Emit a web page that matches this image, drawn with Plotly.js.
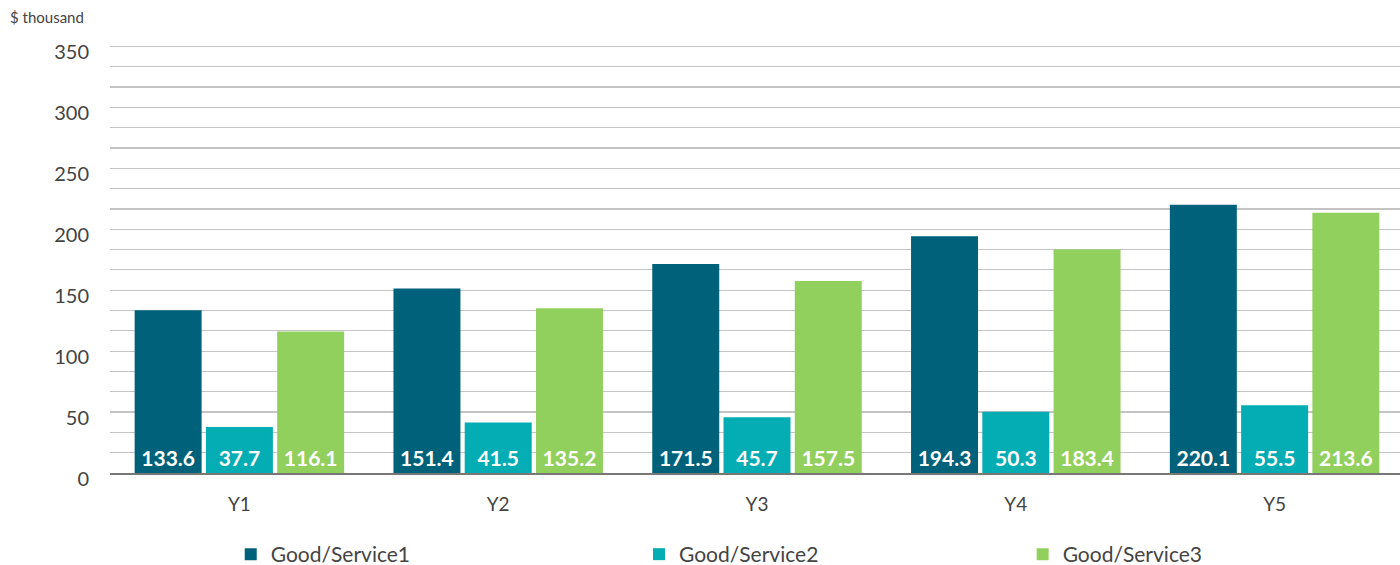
<!DOCTYPE html>
<html><head><meta charset="utf-8">
<script src="https://cdn.plot.ly/plotly-3.0.1.min.js"></script>
<style>html,body{margin:0;padding:0;background:#fff;overflow:hidden}#chart{width:1404px;height:565px}</style>
</head><body><div id="chart"></div>
<script>
const categories = ['Y1','Y2','Y3','Y4','Y5'];
const seriesNames = ['Good/Service1','Good/Service2','Good/Service3'];
const service1 = [133.6, 151.4, 171.5, 194.3, 220.1];
const service2 = [37.7, 41.5, 45.7, 50.3, 55.5];
const service3 = [116.1, 135.2, 157.5, 183.4, 213.6];
const colors = ['#00617A', '#04ACB4', '#92D05E'];
const yTicks = [0, 50, 100, 150, 200, 250, 300, 350];

const allSeries = [service1, service2, service3];
const legendIds = ['legend', 'legend2', 'legend3'];
const traces = allSeries.map((vals, i) => ({
  type: 'bar', x: categories, y: vals, name: seriesNames[i],
  marker: {color: colors[i]},
  text: vals.map(v => v.toFixed(1)), textposition: 'inside', insidetextanchor: 'start',
  textangle: 0,
  textfont: {family: 'Lato, sans-serif', size: 21, color: '#ffffff', weight: 'bold'},
  legend: legendIds[i], showlegend: true, hoverinfo: 'skip', cliponaxis: false
}));

const legendFont = {family: 'Lato, sans-serif', size: 21, color: '#444'};
const legendX = [0.0933, 0.4088, 0.7053];
const layout = {
  width: 1404, height: 565, showlegend: true,
  margin: {l: 110, r: 0, t: 44, b: 92, autoexpand: false},
  paper_bgcolor: '#fff', plot_bgcolor: '#fff',
  barmode: 'group', bargap: 0.174, bargroupgap: 0.06,
  font: {family: 'Lato, sans-serif', color: '#444'},
  xaxis: {
    tickfont: {family: 'Lato, sans-serif', size: 19, color: '#444'},
    showgrid: false, ticks: 'outside', ticklen: 14, tickcolor: 'rgba(0,0,0,0)',
    showline: true, linecolor: '#777', linewidth: 1.5
  },
  yaxis: {
    range: [0, 352], tickvals: yTicks, ticktext: yTicks.map(String),
    tickfont: {family: 'Lato, sans-serif', size: 20, color: '#444'},
    showgrid: true, gridcolor: '#c4c4c4', gridwidth: 1.2,
    minor: {dtick: 50/3, tick0: 0, showgrid: true, gridcolor: '#c4c4c4', gridwidth: 1.2},
    zeroline: false, ticklabelstandoff: 20, ticklabelshift: 6
  },
  annotations: [{
    text: '$ thousand', xref: 'paper', yref: 'paper', x: -0.0789, y: 1.062,
    xanchor: 'left', yanchor: 'middle', showarrow: false,
    font: {family: 'Lato, sans-serif', size: 15, color: '#444'}
  }]
};
legendIds.forEach((id, i) => {
  layout[id] = {x: legendX[i], y: -0.19, xanchor: 'left', yanchor: 'middle', orientation: 'h',
    font: legendFont, bgcolor: 'rgba(0,0,0,0)', itemwidth: 30};
});
Plotly.newPlot('chart', traces, layout, {displayModeBar: false, staticPlot: true});
</script></body></html>
